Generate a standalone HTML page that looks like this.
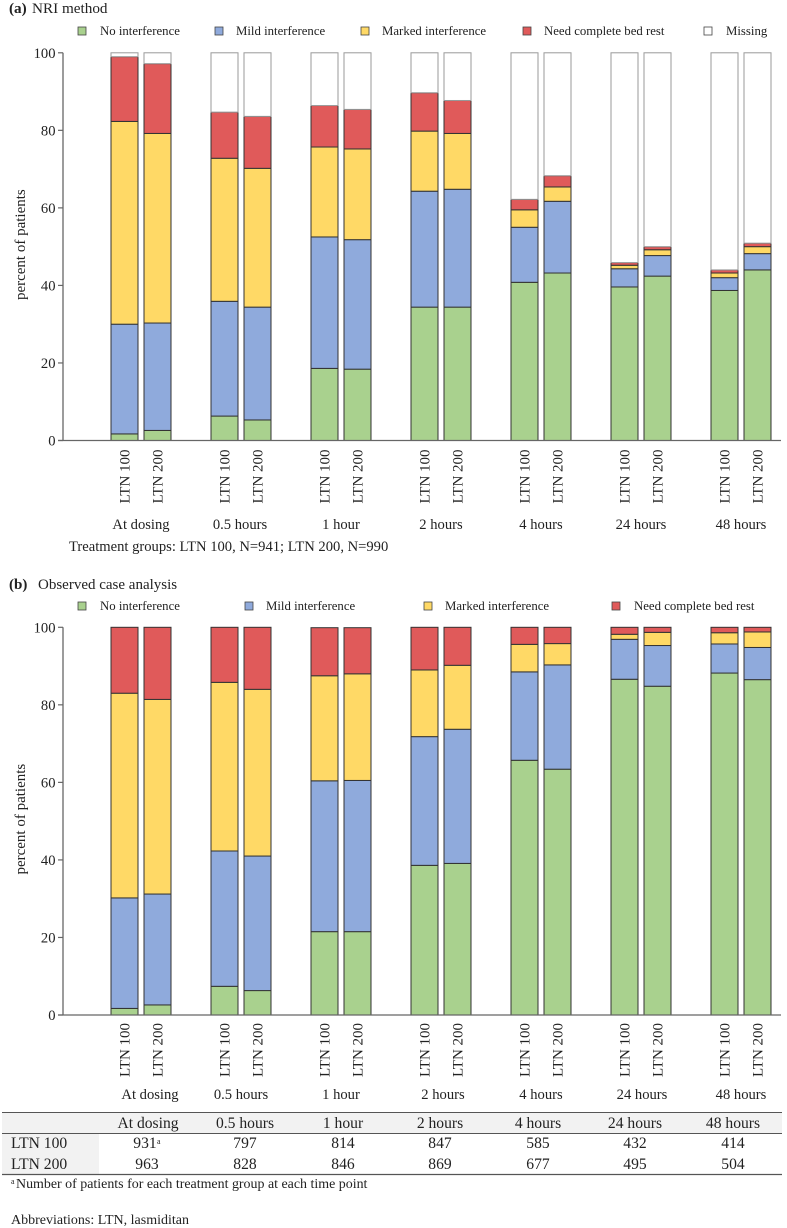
<!DOCTYPE html>
<html lang="en">
<head>
<meta charset="utf-8">
<title>Migraine interference by treatment group</title>
<style>
html,body{margin:0;padding:0;background:#fff;}
body{width:787px;height:1228px;overflow:hidden;}
svg{display:block;}
text{font-family:"Liberation Serif",serif;fill:#222;}
</style>
</head>
<body>
<svg id="fig" width="787" height="1228" viewBox="0 0 787 1228" xmlns="http://www.w3.org/2000/svg">
  <g font-size="15.2">
    <text x="9" y="13" font-weight="bold">(a)</text>
    <text x="32" y="13">NRI method</text>
  </g>
  <text x="69" y="551" font-size="14.6">Treatment groups: LTN 100, N=941; LTN 200, N=990</text>
  <g font-size="15">
    <text x="9" y="589" font-weight="bold">(b)</text>
    <text x="38" y="589">Observed case analysis</text>
  </g>
  <g id="panelA"></g>
  <g id="panelB"></g>

  <g>
    <rect x="2" y="1112" width="780" height="21" fill="#f2f2f2"/>
    <rect x="2" y="1134" width="97" height="40" fill="#f2f2f2"/>
    <line x1="2" x2="782" y1="1112.5" y2="1112.5" stroke="#555"/>
    <line x1="2" x2="782" y1="1133.5" y2="1133.5" stroke="#555"/>
    <line x1="2" x2="782" y1="1174.5" y2="1174.5" stroke="#555" stroke-width="1.2"/>
    <g font-size="15.6" text-anchor="middle">
      <text x="148" y="1128">At dosing</text>
      <text x="245" y="1128">0.5 hours</text>
      <text x="343" y="1128">1 hour</text>
      <text x="440" y="1128">2 hours</text>
      <text x="538" y="1128">4 hours</text>
      <text x="635" y="1128">24 hours</text>
      <text x="733" y="1128">48 hours</text>
    </g>
    <g font-size="15.6" text-anchor="middle">
      <text x="11" y="1148" text-anchor="start">LTN 100</text>
      <text x="145" y="1148">931</text>
      <text x="157" y="1144" font-size="8" text-anchor="start">a</text>
      <text x="245" y="1148">797</text>
      <text x="343" y="1148">814</text>
      <text x="440" y="1148">847</text>
      <text x="538" y="1148">585</text>
      <text x="635" y="1148">432</text>
      <text x="733" y="1148">414</text>
    </g>
    <g font-size="15.6" text-anchor="middle">
      <text x="11" y="1169" text-anchor="start">LTN 200</text>
      <text x="147" y="1169">963</text>
      <text x="245" y="1169">828</text>
      <text x="343" y="1169">846</text>
      <text x="440" y="1169">869</text>
      <text x="538" y="1169">677</text>
      <text x="635" y="1169">495</text>
      <text x="733" y="1169">504</text>
    </g>
  </g>
  <text x="11" y="1184" font-size="8">a</text>
  <text x="16" y="1188" font-size="13.95">Number of patients for each treatment group at each time point</text>
  <text x="11" y="1224" font-size="14">Abbreviations: LTN, lasmiditan</text>
</svg>
<script>
const timepoints = ["At dosing", "0.5 hours", "1 hour", "2 hours", "4 hours", "24 hours", "48 hours"];
const arms = ["LTN 100", "LTN 200"];
const yTicks = [0, 20, 40, 60, 80, 100];
const seriesNames = ["No interference", "Mild interference", "Marked interference", "Need complete bed rest", "Missing"];
const seriesColors = ["#a9d18e", "#8faadc", "#ffd966", "#e05a5a", "#ffffff"];

// values alternate LTN 100, LTN 200 within each time point
const nriNone = [1.7, 2.6, 6.3, 5.3, 18.6, 18.4, 34.4, 34.4, 40.8, 43.2, 39.6, 42.4, 38.7, 44.0];
const nriMild = [28.3, 27.7, 29.6, 29.1, 33.9, 33.4, 29.9, 30.4, 14.2, 18.5, 4.7, 5.3, 3.3, 4.2];
const nriMarked = [52.3, 48.9, 36.9, 35.8, 23.2, 23.4, 15.5, 14.4, 4.5, 3.7, 0.9, 1.5, 1.2, 1.8];
const nriBedRest = [16.7, 18.0, 11.9, 13.4, 10.7, 10.2, 9.9, 8.5, 2.7, 2.9, 0.7, 0.8, 0.8, 0.9];
const nriMissing = [1.0, 2.8, 15.3, 16.4, 13.6, 14.6, 10.3, 12.3, 37.8, 31.7, 54.1, 50.0, 56.0, 49.1];

const obsNone = [1.7, 2.6, 7.4, 6.3, 21.5, 21.5, 38.6, 39.1, 65.7, 63.4, 86.6, 84.8, 88.2, 86.5];
const obsMild = [28.5, 28.6, 34.9, 34.7, 38.9, 39.0, 33.2, 34.6, 22.8, 26.9, 10.3, 10.5, 7.5, 8.3];
const obsMarked = [52.8, 50.2, 43.5, 43.0, 27.1, 27.5, 17.2, 16.5, 7.1, 5.5, 1.3, 3.4, 2.9, 4.0];
const obsBedRest = [17.0, 18.6, 14.2, 16.0, 12.4, 11.9, 11.0, 9.8, 4.4, 4.2, 1.8, 1.3, 1.4, 1.2];

const SVGNS = "http://www.w3.org/2000/svg";
function make(tag, parent) {
  const el = document.createElementNS(SVGNS, tag);
  parent.appendChild(el);
  return el;
}

function drawChart(host, opts) {
  const y = v => opts.y0 - (opts.y0 - opts.y100) * v / 100;
  const x = (g, a) => 111 + g * 100 + a * 33;
  const barW = 27;

  // legend
  opts.legend.forEach((item, i) => {
    const sw = make("rect", host);
    sw.setAttribute("x", item.sx);
    sw.setAttribute("y", opts.legendY - 4);
    sw.setAttribute("width", 8);
    sw.setAttribute("height", 8);
    sw.setAttribute("fill", seriesColors[i]);
    sw.setAttribute("stroke", "#444");
    sw.setAttribute("stroke-width", "0.8");
    
    
    const t = make("text", host);
    t.setAttribute("x", item.tx);
    t.setAttribute("y", opts.legendY + 4);
    t.setAttribute("font-size", "12.8");
    t.textContent = seriesNames[i];
    
    
  });

  // bars
  timepoints.forEach((tp, g) => {
    arms.forEach((arm, a) => {
      const idx = g * 2 + a;
      let base = 0;
      opts.series.forEach((vals, s) => {
        const v = vals[idx];
        const r = make("rect", host);
        r.setAttribute("x", x(g, a));
        r.setAttribute("width", barW);
        r.setAttribute("y", y(base + v));
        r.setAttribute("height", Math.max(0, y(base) - y(base + v)));
        r.setAttribute("fill", seriesColors[s]);
        r.setAttribute("stroke", s === 4 ? "#999" : "#333");
        r.setAttribute("stroke-width", "1");
        
        
        base += v;
      });
      const lab = make("text", host);
      const lx = x(g, a) + barW / 2 + 5;
      const ly = opts.y0 + opts.armOffset;
      lab.setAttribute("transform", "translate(" + lx + "," + ly + ") rotate(-90)");
      lab.setAttribute("font-size", "15");
      lab.textContent = arm;
      
      
    });
    const gl = make("text", host);
    gl.setAttribute("x", opts.groupX[g]);
    gl.setAttribute("y", opts.groupY);
    gl.setAttribute("text-anchor", "middle");
    gl.setAttribute("font-size", "14.6");
    gl.textContent = tp;
    
    
  });

  // axes
  const yAxis = make("line", host);
  yAxis.setAttribute("x1", 63);
  yAxis.setAttribute("x2", 63);
  yAxis.setAttribute("y1", y(100));
  yAxis.setAttribute("y2", y(0));
  yAxis.setAttribute("stroke", "#666");
  yAxis.setAttribute("stroke-width", "1.3");
  
  

  const xAxis = make("line", host);
  xAxis.setAttribute("x1", 58);
  xAxis.setAttribute("x2", 781);
  xAxis.setAttribute("y1", y(0));
  xAxis.setAttribute("y2", y(0));
  xAxis.setAttribute("stroke", "#666");
  xAxis.setAttribute("stroke-width", "1.3");
  
  

  yTicks.forEach(v => {
    const tk = make("line", host);
    tk.setAttribute("x1", 58);
    tk.setAttribute("x2", 63);
    tk.setAttribute("y1", y(v));
    tk.setAttribute("y2", y(v));
    tk.setAttribute("stroke", "#666");
    tk.setAttribute("stroke-width", "1.2");
    
    
    const tl = make("text", host);
    tl.setAttribute("x", 55.5);
    tl.setAttribute("y", y(v) + 5);
    tl.setAttribute("text-anchor", "end");
    tl.setAttribute("font-size", "14.6");
    tl.textContent = String(v);
    
    
  });

  const yt = make("text", host);
  yt.setAttribute("transform", "translate(25," + ((y(0) + y(100)) / 2 - 2) + ") rotate(-90)");
  yt.setAttribute("text-anchor", "middle");
  yt.setAttribute("font-size", "15");
  yt.textContent = "percent of patients";
  
  
}

drawChart(document.getElementById("panelA"), {
  y0: 440.5, y100: 52.8, legendY: 31, armOffset: 63, groupY: 529,
  groupX: [141, 240, 341, 441, 541, 641, 741],
  series: [nriNone, nriMild, nriMarked, nriBedRest, nriMissing],
  legend: [
    {sx: 78, tx: 100}, {sx: 215, tx: 236}, {sx: 361, tx: 382}, {sx: 523, tx: 544}, {sx: 704, tx: 726}
  ]
});
drawChart(document.getElementById("panelB"), {
  y0: 1015, y100: 627.3, legendY: 606, armOffset: 62, groupY: 1099,
  groupX: [150, 241, 341, 443, 541, 642, 741],
  series: [obsNone, obsMild, obsMarked, obsBedRest],
  legend: [
    {sx: 78, tx: 100}, {sx: 245, tx: 266}, {sx: 424, tx: 445}, {sx: 612, tx: 634}
  ]
});
</script>
</body>
</html>
